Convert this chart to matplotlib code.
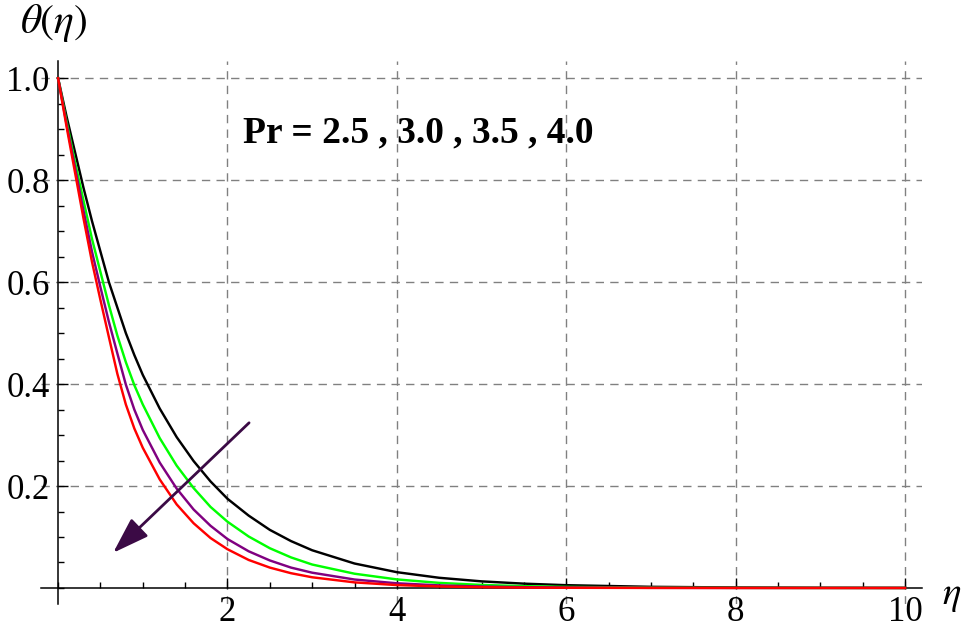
import matplotlib.pyplot as plt
from matplotlib.ticker import MultipleLocator, FixedLocator

# values
eta = [0.0, 0.1, 0.2, 0.3, 0.4, 0.5, 0.6, 0.7, 0.8, 0.9, 1.0,
       1.2, 1.4, 1.6, 1.8, 2.0, 2.25, 2.5, 2.75, 3.0,
       3.5, 4.0, 4.5, 5.0, 5.5, 6.0, 7.0, 8.0, 9.0, 10.0]
theta_pr25 = [1.0, 0.925, 0.855, 0.785, 0.72, 0.66, 0.6, 0.55, 0.5, 0.457, 0.418,
              0.352, 0.296, 0.249, 0.209, 0.175, 0.142, 0.114, 0.092, 0.074,
              0.048, 0.031, 0.020, 0.013, 0.0085, 0.0055, 0.0023, 0.001, 0.0004, 0.0002]
theta_pr30 = [1.0, 0.915, 0.835, 0.76, 0.685, 0.62, 0.555, 0.495, 0.443, 0.398, 0.36,
              0.294, 0.240, 0.196, 0.159, 0.13, 0.101, 0.078, 0.060, 0.046,
              0.028, 0.0168, 0.010, 0.006, 0.0036, 0.0022, 0.0008, 0.0003, 0.0001, 0.00004]
theta_pr35 = [1.0, 0.91, 0.825, 0.74, 0.66, 0.59, 0.522, 0.46, 0.399, 0.35, 0.31,
              0.246, 0.195, 0.154, 0.122, 0.096, 0.072, 0.054, 0.040, 0.030,
              0.0166, 0.0092, 0.0051, 0.0029, 0.0016, 0.0009, 0.0003, 0.0001, 0.00003, 0.00001]
theta_pr40 = [1.0, 0.905, 0.815, 0.725, 0.64, 0.565, 0.492, 0.42, 0.36, 0.313, 0.275,
              0.213, 0.164, 0.127, 0.098, 0.076, 0.055, 0.040, 0.029, 0.021,
              0.011, 0.0057, 0.003, 0.0016, 0.0008, 0.0004, 0.0001, 0.00003, 0.00001, 0.000003]
series_colors = ['black', '#00ff00', '#800080', '#ff0000']

x_ticks = [2, 4, 6, 8, 10]
y_ticks = [0.2, 0.4, 0.6, 0.8, 1.0]
y_ticklabels = ['0.2', '0.4', '0.6', '0.8', '1.0']

plt.rcParams.update({
    'font.family': 'Liberation Serif',
    'mathtext.fontset': 'stix',
    'font.size': 25,
})

fig = plt.figure(figsize=(9.68, 6.3), dpi=100)
# axes placed so that the data box matches the reference pixels
ax = fig.add_axes([0.0425, 0.0416, 0.910, 0.861])
ax.set_xlim(-0.2, 10.2)
ax.set_ylim(-0.031, 1.033)

for th, c in zip([theta_pr25, theta_pr30, theta_pr35, theta_pr40], series_colors):
    ax.plot(eta, th, color=c, lw=1.75, zorder=3)

# Mathematica style axes through the origin
for s in ['top', 'right']:
    ax.spines[s].set_visible(False)
ax.spines['left'].set_position(('data', 0))
ax.spines['bottom'].set_position(('data', 0))
ax.spines['left'].set_linewidth(1.1)
ax.spines['bottom'].set_linewidth(1.1)

ax.xaxis.set_major_locator(FixedLocator(x_ticks))
ax.xaxis.set_minor_locator(MultipleLocator(0.5))
ax.yaxis.set_major_locator(FixedLocator(y_ticks))
ax.yaxis.set_minor_locator(MultipleLocator(0.05))
ax.set_yticklabels(y_ticklabels)
ax.tick_params(which='major', direction='in', length=7, width=1.0)
ax.tick_params(which='minor', direction='in', length=4, width=1.0)
ax.tick_params(axis='y', pad=6)
ax.tick_params(axis='x', pad=6)

ax.grid(True, which='major', color='#808080', linestyle=(0, (6, 4.5)), lw=1.0)

fig.text(0.021, 0.997, r'$\theta(\eta)$', fontsize=30, va='top')
fig.text(0.983, 0.054, r'$\eta$', fontsize=28, ha='center', va='center')

ax.text(2.18, 0.874, 'Pr = 2.5 , 3.0 , 3.5 , 4.0', fontsize=27,
        fontweight='bold', va='baseline', ha='left')

ax.annotate('', xy=(0.65, 0.069), xytext=(2.255, 0.324),
            arrowprops=dict(arrowstyle='-|>,head_length=0.9,head_width=0.3',
                            color='#3b0a45', lw=2.0, shrinkA=0, shrinkB=0),
            zorder=4)

fig.savefig('out.png', dpi=100)
